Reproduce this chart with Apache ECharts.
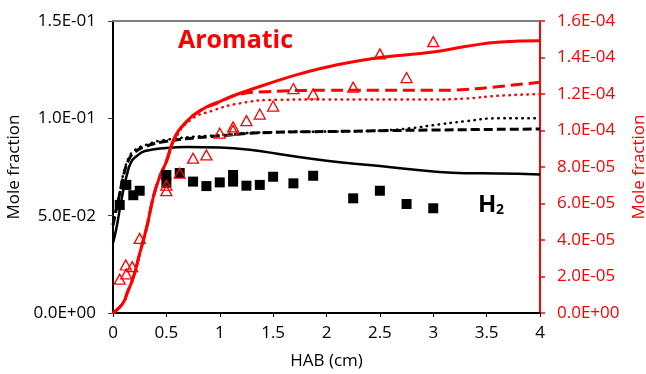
<!DOCTYPE html>
<html><head><meta charset="utf-8">
<script src="https://cdn.jsdelivr.net/npm/echarts@6/dist/echarts.min.js"></script>
<style>html,body{margin:0;padding:0;background:#fff;overflow:hidden}#c{width:646px;height:374px}</style>
</head><body><div id="c"></div>
<script>
// x ticks
var xTicks = [0, 0.5, 1, 1.5, 2, 2.5, 3, 3.5, 4];
// H2 experiment (left axis)
var h2Exp = [[0.063,0.0555],[0.125,0.0658],[0.19,0.0605],[0.25,0.0628],[0.5,0.0709],[0.5,0.0669],[0.625,0.0719],[0.75,0.0675],[0.875,0.0652],[1.0,0.0671],[1.125,0.0709],[1.125,0.0675],[1.25,0.0654],[1.375,0.0658],[1.5,0.070],[1.69,0.0666],[1.875,0.0705],[2.25,0.0589],[2.5,0.0628],[2.75,0.056],[3.0,0.0538]];
// H2 models (left axis)
var h2Solid = [[0,0.036],[0.03,0.043],[0.066,0.054],[0.1,0.064],[0.13,0.071],[0.17,0.0775],[0.22,0.0805],[0.3,0.0832],[0.5,0.0848],[0.7,0.0853],[1.0,0.085],[1.3,0.0837],[1.6,0.0813],[2.0,0.0782],[2.5,0.0755],[3.0,0.0727],[3.3,0.0718],[3.6,0.0717],[4.0,0.0712]];
var h2Dashed = [[0,0.045],[0.03,0.053],[0.066,0.062],[0.1,0.071],[0.15,0.079],[0.2,0.0825],[0.3,0.0855],[0.5,0.0882],[1.0,0.091],[1.5,0.0928],[2.0,0.0932],[3.0,0.094],[4.0,0.0945]];
var h2Dotted = [[0,0.046],[0.03,0.054],[0.066,0.063],[0.1,0.072],[0.15,0.080],[0.2,0.0835],[0.3,0.0862],[0.5,0.089],[1.0,0.0914],[1.5,0.0929],[2.0,0.0932],[2.5,0.0937],[2.8,0.095],[3.0,0.0965],[3.3,0.0985],[3.6,0.1],[4.0,0.1]];
// Aromatic experiment (right axis)
var aroExp = [[0.063,1.85e-5],[0.12,2.63e-5],[0.125,2.14e-5],[0.18,2.54e-5],[0.25,4.09e-5],[0.5,7.0e-5],[0.5,6.7e-5],[0.625,7.66e-5],[0.75,8.48e-5],[0.875,8.66e-5],[1.0,9.85e-5],[1.125,1.02e-4],[1.125,1.0e-4],[1.25,1.054e-4],[1.375,1.09e-4],[1.5,1.134e-4],[1.69,1.23e-4],[1.875,1.2e-4],[2.25,1.237e-4],[2.5,1.42e-4],[2.75,1.29e-4],[3.0,1.487e-4]];
// Aromatic models (right axis)
var aroSolid = [[0,0],[0.05,0.25e-5],[0.1,0.6e-5],[0.13,1.05e-5],[0.19,1.95e-5],[0.25,3.25e-5],[0.32,4.8e-5],[0.38,6.4e-5],[0.44,7.5e-5],[0.5,8.3e-5],[0.57,9.5e-5],[0.66,1.03e-4],[0.82,1.11e-4],[1.03,1.167e-4],[1.19,1.204e-4],[1.5,1.265e-4],[1.75,1.31e-4],[2.06,1.355e-4],[2.5,1.4e-4],[3.0,1.43e-4],[3.3,1.46e-4],[3.63,1.485e-4],[4.0,1.492e-4]];
var aroDashed = [[0,0],[0.05,0.25e-5],[0.1,0.6e-5],[0.13,1.05e-5],[0.19,1.95e-5],[0.25,3.25e-5],[0.32,4.8e-5],[0.38,6.4e-5],[0.44,7.5e-5],[0.5,8.3e-5],[0.57,9.5e-5],[0.66,1.03e-4],[0.82,1.11e-4],[1.0,1.155e-4],[1.16,1.195e-4],[1.44,1.213e-4],[2.0,1.22e-4],[2.5,1.22e-4],[3.0,1.22e-4],[3.3,1.225e-4],[3.6,1.24e-4],[4.0,1.265e-4]];
var aroDotted = [[0,0],[0.05,0.25e-5],[0.1,0.6e-5],[0.13,1.05e-5],[0.19,1.95e-5],[0.25,3.25e-5],[0.32,4.8e-5],[0.38,6.4e-5],[0.44,7.5e-5],[0.5,8.3e-5],[0.57,9.4e-5],[0.72,1.055e-4],[0.94,1.11e-4],[1.19,1.149e-4],[1.53,1.168e-4],[2.0,1.17e-4],[3.0,1.17e-4],[3.3,1.175e-4],[3.6,1.19e-4],[4.0,1.2e-4]];

function sci(v){
  if (Math.abs(v) < 1e-12) return '0.0E+00';
  var s = v.toExponential(1).split('e');
  var e = s[1]; var sign = e[0]; var d = e.slice(1); if (d.length < 2) d = '0' + d;
  return s[0] + 'E' + sign + d;
}
var FONT = 'Open Sans';
var chart = echarts.init(document.getElementById('c'), null, {renderer:'canvas'});
function line(name, data, yi, color, width, dash, cap){
  return {name:name, type:'line', data:data, yAxisIndex:yi, showSymbol:false, smooth:0.5,
    lineStyle:{color:color, width:width, type:dash, cap:cap||'butt', join:'round'}, z:3, silent:true, animation:false};
}
chart.setOption({
  animation:false,
  grid:{left:113, right:106, top:21, bottom:61, containLabel:false, outerBoundsMode:'none'},
  xAxis:[{type:'value', min:0, max:4, interval:0.5, name:'HAB (cm)', nameLocation:'middle', nameGap:40,
    nameTextStyle:{fontFamily:FONT, fontSize:17, color:'#000'},
    axisLine:{onZero:false, lineStyle:{color:'#000', width:2}},
    axisTick:{show:true, length:4, lineStyle:{color:'#000', width:1}},
    axisLabel:{fontFamily:FONT, fontSize:17, color:'#000', margin:12, formatter:function(v){return String(v);}},
    splitLine:{show:false}},
   {type:'value', position:'top', min:0, max:4, axisLine:{show:true, onZero:false, lineStyle:{color:'#7f7f7f', width:2}}, axisTick:{show:false}, axisLabel:{show:false}, splitLine:{show:false}}],
  yAxis:[{type:'value', min:0, max:0.15, interval:0.05, name:'Mole fraction', nameLocation:'middle', nameGap:86, nameRotate:90,
    nameTextStyle:{fontFamily:FONT, fontSize:17, color:'#000'},
    axisLine:{show:true, onZero:false, lineStyle:{color:'#000', width:2}},
    axisTick:{show:true, length:5, lineStyle:{color:'#404040', width:1}},
    axisLabel:{fontFamily:FONT, fontSize:17, color:'#000', margin:17, formatter:sci},
    splitLine:{show:false}},
   {type:'value', position:'right', min:0, max:1.6e-4, interval:2e-5, name:'Mole fraction', nameLocation:'middle', nameGap:87, nameRotate:90,
    nameTextStyle:{fontFamily:FONT, fontSize:17, color:'#ff0000'},
    axisLine:{show:true, onZero:false, lineStyle:{color:'#ff0000', width:2}},
    axisTick:{show:true, length:5, lineStyle:{color:'#ff0000', width:1.5}},
    axisLabel:{fontFamily:FONT, fontSize:17, color:'#ff0000', margin:17, formatter:sci},
    splitLine:{show:false}}],
  series:[
    line('H2 solid', h2Solid, 0, '#000', 2.5, 'solid'),
    line('H2 dashed', h2Dashed, 0, '#000', 3, [9,4]),
    line('H2 dotted', h2Dotted, 0, '#000', 2.5, [0.5,5.5], 'round'),
    {name:'H2 exp', type:'scatter', yAxisIndex:0, data:h2Exp, symbol:'rect', symbolSize:10, itemStyle:{color:'#000', opacity:1}, z:4, silent:true},
    line('Aro solid', aroSolid, 1, '#ff0000', 3, 'solid'),
    line('Aro dashed', aroDashed, 1, '#ff0000', 3, [12,6]),
    line('Aro dotted', aroDotted, 1, '#ff0000', 2.5, [0.5,5.5], 'round'),
    {name:'Aro exp', type:'scatter', yAxisIndex:1, data:aroExp, symbol:'triangle', symbolSize:[11,10], itemStyle:{color:'transparent', borderColor:'#ff0000', borderWidth:1.3, opacity:1}, z:5, silent:true}
  ],
  graphic:[
    {type:'text', left:178, top:28, style:{text:'Aromatic', fontFamily:FONT, fontWeight:'bold', fontSize:25, fill:'#ff0000'}},
    {type:'text', left:478, top:193, style:{text:'H', fontFamily:FONT, fontWeight:'bold', fontSize:24, fill:'#000'}},
    {type:'text', left:496, top:203, style:{text:'2', fontFamily:FONT, fontWeight:'bold', fontSize:14, fill:'#000'}}
  ]
});
</script></body></html>
